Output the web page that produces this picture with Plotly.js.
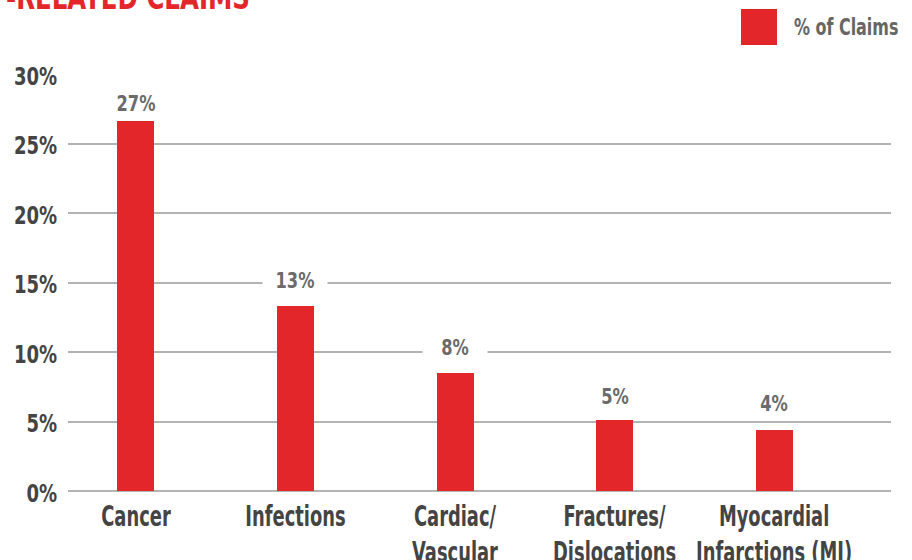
<!DOCTYPE html>
<html>
<head>
<meta charset="utf-8">
<script src="https://cdn.plot.ly/plotly-3.0.1.min.js"></script>
<style>html,body{margin:0;padding:0;background:#fff;}#chart{width:912px;height:560px;}</style>
</head>
<body>
<div id="chart"></div>
<script>
// ---- data ----
var categories = ["Cancer", "Infections", "Cardiac/<br>Vascular", "Fractures/<br>Dislocations", "Myocardial<br>Infarctions (MI)"];
var claimsPct = [26.6, 13.3, 8.5, 5.1, 4.4];
var valueLabels = ["27%", "13%", "8%", "5%", "4%"];
var seriesName = "% of Claims";
var yTicks = [0, 5, 10, 15, 20, 25, 30];
var titleText = "-RELATED CLAIMS";

// ---- styling ----
var labelShift = [17, 25, 25, 23, 26];
var FONT = "'DejaVu Sans Condensed', 'DejaVu Sans', sans-serif";
var RED = "#e3262a";

// plot area in pixels
var L = 68, R = 891, T = 74, B = 491, W = 912, H = 560;
function px(x) { return (x - L) / (R - L); }
function py(y) { return (B - y) / (B - T); }

var idx = categories.map(function (c, i) { return i; });

var trace = {
  type: "bar",
  x: idx,
  y: claimsPct,
  name: seriesName,
  width: 0.232,
  marker: { color: RED },
  hoverinfo: "skip",
  showlegend: false
};

var annotations = claimsPct.map(function (v, i) {
  return {
    x: i, y: v, xref: "x", yref: "y",
    text: valueLabels[i],
    showarrow: false,
    yanchor: "middle",
    yshift: labelShift[i],
    width: 62,
    bgcolor: "#ffffff",
    font: { family: FONT, size: 21, color: "#6a6a6a", weight: "bold" }
  };
});

annotations.push({
  x: px(792), y: py(27), xref: "paper", yref: "paper",
  xanchor: "left", yanchor: "middle", align: "left",
  text: seriesName, showarrow: false,
  font: { family: FONT, size: 23, color: "#666666", weight: "bold" }
});

annotations.push({
  x: px(4), y: py(-3), xref: "paper", yref: "paper",
  xanchor: "left", yanchor: "middle", align: "left",
  text: titleText, showarrow: false,
  font: { family: FONT, size: 34, color: RED, weight: "bold" }
});

var layout = {
  width: W, height: H,
  margin: { l: L, r: W - R, t: T, b: H - B, pad: 0 },
  paper_bgcolor: "#ffffff",
  plot_bgcolor: "#ffffff",
  showlegend: false,
  bargap: 0,
  xaxis: {
    range: [-0.426, 4.733],
    tickmode: "array",
    tickvals: idx,
    ticktext: categories,
    tickangle: 0,
    showgrid: false,
    zeroline: false,
    showline: false,
    ticks: "",
    ticklabelstandoff: 6,
    tickfont: { family: FONT, size: 28, color: "#444444", weight: "bold" },
    fixedrange: true
  },
  yaxis: {
    range: [0, 30],
    tickmode: "array",
    tickvals: yTicks,
    ticktext: yTicks.map(function (t) { return t + "%"; }),
    showgrid: true,
    gridcolor: "#b3b3b3",
    gridwidth: 2,
    zeroline: true,
    zerolinecolor: "#b3b3b3",
    zerolinewidth: 2,
    showline: false,
    ticks: "",
    ticklabelstandoff: 10,
    ticklabelshift: 2,
    tickfont: { family: FONT, size: 25, color: "#444444", weight: "bold" },
    fixedrange: true
  },
  shapes: [{
    type: "rect", xref: "paper", yref: "paper",
    x0: px(741), x1: px(777), y0: py(45), y1: py(9),
    fillcolor: RED, line: { width: 0 }
  }],
  annotations: annotations
};

// horizontally condense real SVG text to mimic a condensed typeface
function condense(el, f) {
  var lines = el.querySelectorAll("tspan.line");
  var targets = lines.length ? Array.prototype.slice.call(lines) : [el];
  targets.forEach(function (t) {
    var len = t.getComputedTextLength();
    if (len > 0) {
      t.setAttribute("textLength", (len * f).toFixed(1));
      t.setAttribute("lengthAdjust", "spacingAndGlyphs");
    }
  });
}

Plotly.newPlot("chart", [trace], layout, { displayModeBar: false, staticPlot: true }).then(function (gd) {
  gd.querySelectorAll(".xtick text").forEach(function (t) { condense(t, 0.71); });
  gd.querySelectorAll(".ytick text").forEach(function (t) { condense(t, 0.8); });
  gd.querySelectorAll(".annotation-text").forEach(function (t) {
    var s = t.textContent;
    if (s === seriesName) condense(t, 0.77);
    else if (s === titleText) condense(t, 0.8);
    else condense(t, 0.86);
  });
});
</script>
</body>
</html>
